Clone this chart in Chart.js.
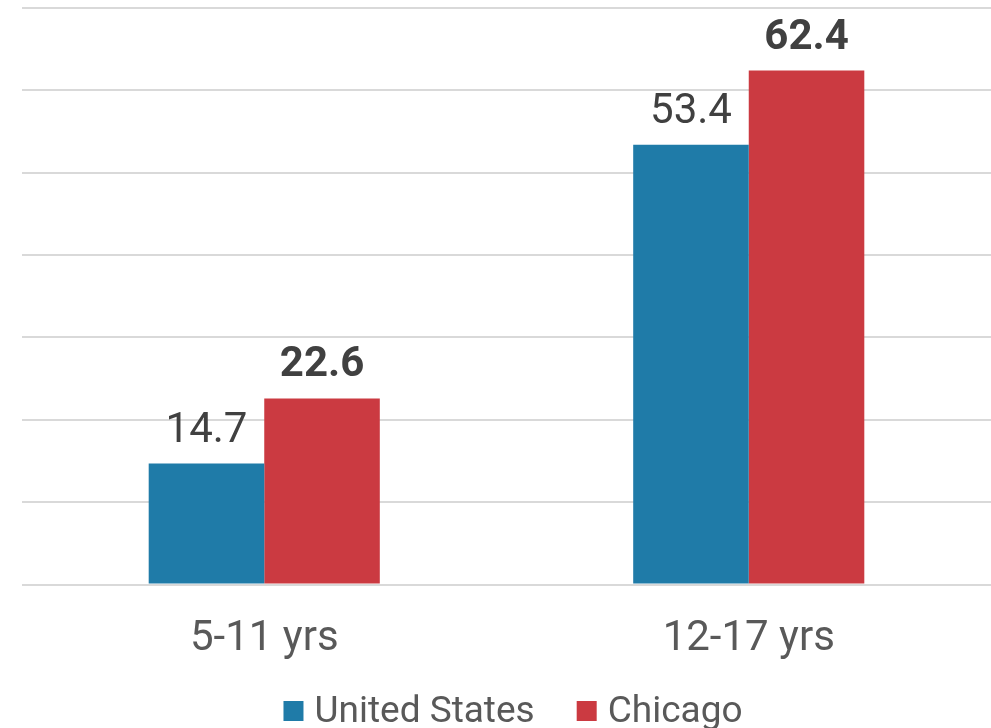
<!DOCTYPE html>
<html>
<head>
<meta charset="utf-8">
<script src="https://cdn.jsdelivr.net/npm/chart.js@4"></script>
<style>
html,body{margin:0;padding:0;background:#fff;overflow:hidden;}
#wrap{width:991px;height:728px;position:relative;}
</style>
</head>
<body>
<div id="wrap"><canvas id="c" width="991" height="728"></canvas></div>
<script>
const categories = ["5-11 yrs", "12-17 yrs"];
const seriesNames = ["United States", "Chicago"];
const usValues = [14.7, 53.4];
const chicagoValues = [22.6, 62.4];
const seriesColors = ["#1f7ba8", "#cb3a41"];

const FONT = "Roboto, 'Noto Sans', sans-serif";

const valueLabels = {
  id: 'valueLabels',
  afterDatasetsDraw(chart) {
    const ctx = chart.ctx;
    ctx.save();
    ctx.textAlign = 'center';
    ctx.textBaseline = 'alphabetic';
    ctx.fillStyle = '#404040';
    chart.data.datasets.forEach((ds, di) => {
      const meta = chart.getDatasetMeta(di);
      ctx.font = (di === 1 ? 'bold ' : '') + '42px ' + FONT;
      meta.data.forEach((bar, i) => {
        ctx.fillText(ds.data[i].toFixed(1), bar.x, bar.y - 22);
      });
    });
    ctx.restore();
  }
};

const customLegend = {
  id: 'customLegend',
  afterDraw(chart) {
    const ctx = chart.ctx;
    ctx.save();
    ctx.font = '37px ' + FONT;
    ctx.textBaseline = 'alphabetic';
    const box = 20, gapBoxText = 11, gapItems = 42;
    const items = chart.data.datasets.map(ds => ({text: ds.label, color: ds.backgroundColor, w: ctx.measureText(ds.label).width}));
    let total = 0;
    items.forEach((it, i) => { total += box + gapBoxText + it.w + (i < items.length - 1 ? gapItems : 0); });
    let x = 513 - total / 2;
    const baseline = 722;
    items.forEach(it => {
      ctx.fillStyle = it.color;
      ctx.fillRect(x, baseline - 21, box, box);
      x += box + gapBoxText;
      ctx.fillStyle = '#595959';
      ctx.textAlign = 'left';
      ctx.fillText(it.text, x, baseline);
      x += it.w + gapItems;
    });
    ctx.restore();
  }
};

new Chart(document.getElementById('c'), {
  type: 'bar',
  data: {
    labels: categories,
    datasets: [
      { label: seriesNames[0], data: usValues, backgroundColor: seriesColors[0] },
      { label: seriesNames[1], data: chicagoValues, backgroundColor: seriesColors[1] }
    ]
  },
  options: {
    responsive: false,
    animation: false,
    layout: { padding: { left: 22, right: 0, top: 8, bottom: 41 } },
    plugins: { legend: { display: false }, tooltip: { enabled: false } },
    datasets: { bar: { barPercentage: 1.0, categoryPercentage: 0.477 } },
    scales: {
      x: {
        grid: { display: false },
        border: { display: false },
        ticks: { color: '#595959', font: { family: FONT, size: 42 }, padding: 22 }
      },
      y: {
        min: 0, max: 70,
        ticks: { display: false, stepSize: 10 },
        border: { display: false },
        grid: { color: '#d9d9d9', lineWidth: 2, drawTicks: false }
      }
    }
  },
  plugins: [valueLabels, customLegend]
});
</script>
</body>
</html>
